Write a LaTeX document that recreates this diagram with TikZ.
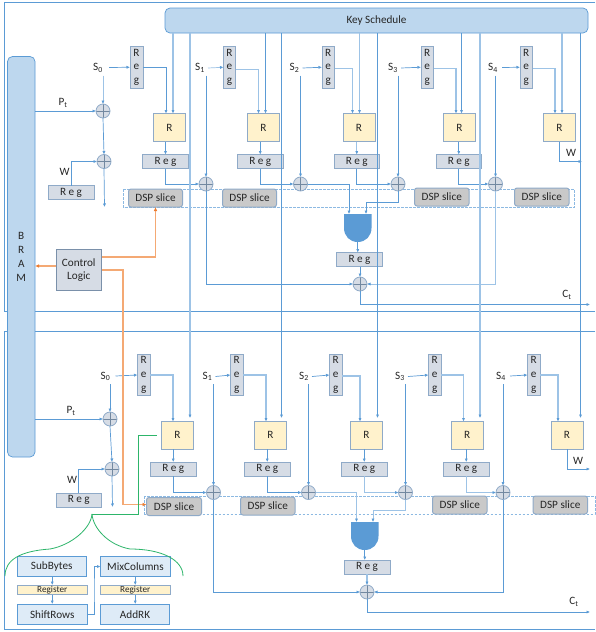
\documentclass[tikz,border=0pt]{standalone}
\usepackage{fontspec}
\setmainfont{Carlito}
\usetikzlibrary{arrows.meta,calc}
\definecolor{lineb}{HTML}{5B9BD5}
\definecolor{linel}{HTML}{9DC3E6}
\definecolor{edgeb}{HTML}{8FAAC8}
\definecolor{fillg}{HTML}{D6DCE5}
\definecolor{fillk}{HTML}{BDD7EE}
\definecolor{filly}{HTML}{FFF2CC}
\definecolor{fills}{HTML}{DEEBF7}
\definecolor{filld}{HTML}{C9C9C9}
\definecolor{oranged}{HTML}{ED7D31}
\definecolor{orangel}{HTML}{F4A974}
\definecolor{greenl}{HTML}{2DB56A}
\definecolor{txt}{HTML}{262626}
\tikzset{
  base/.style={inner sep=0pt,outer sep=0pt,align=center,text=txt,font=\fontsize{11.2}{13.8}\selectfont},
  keybox/.style={base,draw=lineb,fill=fillk,line width=0.7pt,rounded corners=5pt},
  regbox/.style={base,draw=edgeb,fill=fillg,line width=1pt},
  ctrlbox/.style={base,draw=edgeb!85!black,fill=fillg,line width=0.9pt},
  rbox/.style={base,draw=edgeb,fill=filly,line width=1pt},
  dspbox/.style={base,draw=edgeb,fill=filld,line width=1pt,rounded corners=2.5pt},
  subbox/.style={base,draw=lineb,fill=fills,line width=0.7pt},
  regy/.style={base,draw=edgeb,fill=filly,line width=0.7pt,font=\fontsize{9.2}{9.5}\selectfont},
  dashbox/.style={draw=lineb!70,line width=0.5pt,dash pattern=on 2.5pt off 1.5pt},
  xorgate/.style={circle,draw=edgeb,fill=fillg,line width=0.8pt,minimum size=14pt,inner sep=0pt,outer sep=0pt,
    path picture={\draw[edgeb!80!black,line width=0.6pt]
      (path picture bounding box.north)--(path picture bounding box.south)
      (path picture bounding box.west)--(path picture bounding box.east);}},
  lab/.style={inner sep=3pt,text=txt,font=\fontsize{11.2}{13}\selectfont},
  tip/.style={-{Latex[length=3.5pt,width=3.2pt]}},
  conn/.style={draw=lineb,line width=0.7pt,tip},
  connl/.style={draw=linel,line width=0.7pt,-{Latex[length=3.5pt,width=3.2pt,color=lineb]}},
  connh/.style={draw=linel,line width=1.1pt,-{Latex[length=3.5pt,width=3.2pt,color=lineb]}},
  conno/.style={draw=orangel,line width=1.1pt,-{Latex[length=4pt,width=3.6pt,color=oranged]}},
  conng/.style={draw=greenl,line width=0.8pt},
  frame/.style={draw=lineb,line width=0.7pt},
}
\newcommand{\bx}[7]{\node[#1,minimum width={(#5-#3)*1pt},minimum height={(#6-#4)*1pt}] (#2) at ({(#3+#5)/2},{(#4+#6)/2}) {#7};}
\newcommand{\andg}[3]{%
  \fill[lineb] (#2,#3) -- ++(27.5,0) -- ++(0,14) .. controls +(0,8) and +(8,0) .. ++(-13.75,14) .. controls +(-8,0) and +(0,8) .. ++(-13.75,-14) -- cycle;
  \node[inner sep=0pt,outer sep=0pt,minimum width=27.5pt,minimum height=28pt] (#1) at ({#2+13.75},{#3+14}) {};}
\newcommand{\Hreg}{R e g}
\newcommand{\Vreg}{R\\e\\g}
\begin{document}
\begin{tikzpicture}[x=1pt,y=-1pt]
\useasboundingbox (0,0) rectangle (595,632);
\fill[white] (0,0) rectangle (595,632);
% frames
\draw[frame] (595,2.5) -- (4.5,2.5) -- (4.5,311.5) -- (595,311.5);
\draw[frame] (595,331) -- (4.5,331) -- (4.5,629) -- (595,629);

% dashed bands
\draw[dashbox] (123.5,189) rectangle (574,207.5);
\draw[dashbox] (144.5,496) rectangle (595,514);

% ---- node layer
\bx{keybox}{Key}{165}{8}{588}{33}{Key Schedule}
\bx{keybox}{BRAM}{7.5}{56.5}{35}{457}{B\\R\\A\\M}
\bx{ctrlbox}{Ctrl}{56}{249.5}{101.5}{290.5}{Control\\Logic}

% top tier
\node[lab] (St0) at (98,68) {S\textsubscript{0}};
\node[lab] (St1) at (200,68) {S\textsubscript{1}};
\node[lab] (St2) at (294.5,68) {S\textsubscript{2}};
\node[lab] (St3) at (393,68) {S\textsubscript{3}};
\node[lab] (St4) at (493,68) {S\textsubscript{4}};
\bx{regbox}{Vt0}{130}{46.5}{143}{88}{\Vreg}
\bx{regbox}{Vt1}{223.5}{46.5}{235.5}{88}{\Vreg}
\bx{regbox}{Vt2}{322}{46.5}{334.5}{88}{\Vreg}
\bx{regbox}{Vt3}{421}{46.5}{433.5}{88}{\Vreg}
\bx{regbox}{Vt4}{520}{46.5}{532.5}{88}{\Vreg}
\bx{rbox}{Rt0}{153.5}{113.5}{185.5}{141.5}{R}
\bx{rbox}{Rt1}{247.5}{113.5}{279.5}{141.5}{R}
\bx{rbox}{Rt2}{343}{113.5}{375}{141.5}{R}
\bx{rbox}{Rt3}{443.5}{113.5}{475.5}{141.5}{R}
\bx{rbox}{Rt4}{543.5}{113.5}{575.5}{141.5}{R}
\bx{regbox}{Ht0}{142.5}{154.5}{188.5}{168.5}{\Hreg}
\bx{regbox}{Ht1}{237.5}{154.5}{283}{168.5}{\Hreg}
\bx{regbox}{Ht2}{334}{154.5}{379.5}{168.5}{\Hreg}
\bx{regbox}{Ht3}{436}{154.5}{481.5}{168.5}{\Hreg}
\bx{regbox}{Wt}{48}{185.5}{94}{199.5}{\Hreg}
\bx{regbox}{Ot}{336.5}{252.5}{382.5}{266.5}{\Hreg}
\bx{dspbox}{Dt0}{128.5}{189}{182.5}{207}{DSP slice}
\bx{dspbox}{Dt1}{222.5}{189}{276.5}{207}{DSP slice}
\bx{dspbox}{Dt2}{414.5}{188}{469}{206}{DSP slice}
\bx{dspbox}{Dt3}{514.5}{188}{569}{206}{DSP slice}
\node[xorgate] (Xta) at (103,111) {};
\node[xorgate] (Xtb) at (104,161.5) {};
\node[xorgate] (Xt1) at (206,184) {};
\node[xorgate] (Xt2) at (300.5,184) {};
\node[xorgate] (Xt3) at (398,184) {};
\node[xorgate] (Xt4) at (495.5,184) {};
\node[xorgate] (Xto) at (360,284) {};
\andg{At}{344}{214}

% bottom tier
\node[lab] (Sb0) at (105.5,376.5) {S\textsubscript{0}};
\node[lab] (Sb1) at (207.5,376.5) {S\textsubscript{1}};
\node[lab] (Sb2) at (304,376.5) {S\textsubscript{2}};
\node[lab] (Sb3) at (400,376.5) {S\textsubscript{3}};
\node[lab] (Sb4) at (501,376.5) {S\textsubscript{4}};
\bx{regbox}{Vb0}{137.5}{354.5}{150}{395.5}{\Vreg}
\bx{regbox}{Vb1}{230.5}{354.5}{243}{395.5}{\Vreg}
\bx{regbox}{Vb2}{329.5}{354.5}{342}{395.5}{\Vreg}
\bx{regbox}{Vb3}{428.5}{354.5}{441}{395.5}{\Vreg}
\bx{regbox}{Vb4}{527.5}{354.5}{540}{395.5}{\Vreg}
\bx{rbox}{Rb0}{161.5}{421.5}{193.5}{449}{R}
\bx{rbox}{Rb1}{254.5}{421.5}{286.5}{449}{R}
\bx{rbox}{Rb2}{350.5}{421.5}{382.5}{449}{R}
\bx{rbox}{Rb3}{451.5}{421.5}{483}{449}{R}
\bx{rbox}{Rb4}{551}{421.5}{583}{449}{R}
\bx{regbox}{Hb0}{150.5}{462}{196}{476}{\Hreg}
\bx{regbox}{Hb1}{244.5}{462}{290}{476}{\Hreg}
\bx{regbox}{Hb2}{341.5}{462}{387}{476}{\Hreg}
\bx{regbox}{Hb3}{443.5}{462}{489}{476}{\Hreg}
\bx{regbox}{Wb}{56}{493}{101.5}{507}{\Hreg}
\bx{regbox}{Ob}{344}{560}{390}{574}{\Hreg}
\bx{dspbox}{Db0}{146.5}{497.5}{201.5}{515.5}{DSP slice}
\bx{dspbox}{Db1}{240.5}{497}{295}{515}{DSP slice}
\bx{dspbox}{Db2}{432.5}{496}{487}{514}{DSP slice}
\bx{dspbox}{Db3}{533}{496}{587.5}{514}{DSP slice}
\node[xorgate] (Xba) at (110,419) {};
\node[xorgate] (Xbb) at (112,469) {};
\node[xorgate] (Xb1) at (213.5,492.5) {};
\node[xorgate] (Xb2) at (308.5,492.5) {};
\node[xorgate] (Xb3) at (405.5,492.5) {};
\node[xorgate] (Xb4) at (503,492.5) {};
\node[xorgate] (Xbo) at (367,592) {};
\andg{Ab}{351}{522}

% round detail
\bx{subbox}{Sub}{17}{556.5}{86.5}{576.5}{SubBytes}
\bx{regy}{Ry1}{17.5}{585}{87}{594.5}{Register}
\bx{subbox}{Shf}{17.5}{604}{87}{624.5}{ShiftRows}
\bx{subbox}{Mix}{100.5}{556.5}{170.5}{576.5}{MixColumns}
\bx{regy}{Ry2}{100.5}{585}{170}{594.5}{Register}
\bx{subbox}{Add}{100.5}{604}{169.5}{624.5}{AddRK}

% labels
\node[lab] (PtT) at (63,103) {P\textsubscript{t}};
\node[lab] (PtB) at (71,411) {P\textsubscript{t}};
\node[lab] (WtL) at (64.5,172) {W};
\node[lab] (WbL) at (72,480) {W};
\node[lab] (W4t) at (571,153) {W};
\node[lab] (W4b) at (578,461) {W};
\node[lab] (CtT) at (567,295) {C\textsubscript{t}};
\node[lab] (CtB) at (574,602) {C\textsubscript{t}};

% free ends and ports
\coordinate (Tt0) at (166,113.5); \coordinate (Kt0) at (173,113.5);
\coordinate (Tt1) at (258.5,113.5); \coordinate (Kt1) at (265.5,113.5);
\coordinate (Tt2) at (352.5,113.5); \coordinate (Kt2) at (359.5,113.5);
\coordinate (Tt3) at (456,113.5); \coordinate (Kt3) at (461.5,113.5);
\coordinate (Tt4) at (555,113.5); \coordinate (Kt4) at (562,113.5);
\coordinate (Tb0) at (173,421.5); \coordinate (Kb0) at (190,418);
\coordinate (Tb1) at (266,421.5); \coordinate (Kb1) at (281.5,418);
\coordinate (Tb2) at (360,421.5); \coordinate (Kb2) at (377.5,418);
\coordinate (Tb3) at (463.5,421.5); \coordinate (Kb3) at (480,418);
\coordinate (Tb4) at (558,421.5); \coordinate (Kb4) at (580.5,418);
\coordinate (WoutT) at (582,161.5); \coordinate (WoutB) at (590,469);
\coordinate (CoutT) at (590,304.5); \coordinate (CoutB) at (590,612);
\coordinate (XbOutT) at (104.5,207); \coordinate (XbOutB) at (112.5,507);
\coordinate (Atl) at (349,214); \coordinate (Atr) at (366,214);
\coordinate (Abl) at (356.5,522); \coordinate (Abr) at (373,522);
\coordinate (orngA) at (123,400);
\coordinate (grn1) at (138.5,514);
\coordinate (brace) at (92,514);
\coordinate (braceL) at (5,576);
\coordinate (braceR) at (183,576);
\coordinate (shfx) at (94,590);
\coordinate (yBr) at (0,266);
\coordinate (Wxt) at (559.5,141.5);
\coordinate (Wxb) at (567,449);

% top tier connectors
\draw[conn] (BRAM.east |- Xta) -- (Xta.west);
\draw[connl] (St0.south -| Xta.north) -- (Xta.north);
\draw[conn] (Xta.south) -- (Xtb.north);
\draw[conn] (Wt.north) |- (Xtb.west);
\draw[conn] (Xtb.south) -- (XbOutT);
\draw[conn] (St0.east) ++(3,-0.5) -- (Vt0.west);
\draw[connl] (St1.east) -- (Vt1.west);
\draw[conn] (St2.east) -- (Vt2.west);
\draw[conn] (St3.east) -- (Vt3.west);
\draw[conn] (St4.east) ++(1,-0.5) -- (Vt4.west);
\draw[conn] (Vt0.east) -| (Tt0);
\draw[connh] (Vt1.east) ++(0,2) -| (Tt1);
\draw[connh] (Vt2.east) ++(0,1.5) -| (Tt2);
\draw[connh] (Vt3.east) ++(0,1.5) -| (Tt3);
\draw[connh] (Vt4.east) ++(0,1.5) -| (Tt4);
\draw[connh] (Key.south -| Kt0) -- (Kt0);
\draw[conn] (Key.south -| Kt1) -- (Kt1);
\draw[connh] (Key.south -| Kt2) -- (Kt2);
\draw[conn] (Key.south -| Kt3) -- (Kt3);
\draw[connh] (Key.south -| Kt4) -- (Kt4);
\draw[conn] (Rt0.south -| Ht0.north) -- (Ht0.north);
\draw[conn] (Rt1.south -| Ht1.north) -- (Ht1.north);
\draw[connl] (Rt2.south -| Ht2.north) -- (Ht2.north);
\draw[conn] (Rt3.south -| Ht3.north) -- (Ht3.north);
\draw[conn] (Ht0.south) |- (Xt1.west);
\draw[conn] (Ht1.south) |- (Xt2.west);
\draw[conn] (Ht2.south) |- (Xt3.west);
\draw[conn] (Ht3.south) |- (Xt4.west);
\draw[conn] (St1.south -| Xt1.north) -- (Xt1.north);
\draw[conn] (St2.south -| Xt2.north) -- (Xt2.north);
\draw[conn] (St3.south -| Xt3.north) -- (Xt3.north);
\draw[conn] (St4.south -| Xt4.north) -- (Xt4.north);
\draw[conn] (Xt2.east) -| (Atl);
\draw[conn] (Xt3.south) |- ($(Atr)+(0,-12)$) -- (Atr);
\draw[conn] (At.south) -- (At.south |- Ot.north);
\draw[conn] (Ot.south -| Xto.north) -- (Xto.north);
\draw[conn] (Xt1.south) |- (Xto.west);
\draw[connl] (Xt4.south) |- (Xto.east);
\draw[conn] (Xto.south) |- (CoutT);
\draw[conn] (Wxt) |- (WoutT);

% key lines to the bottom tier
\draw[connh] (Key.south -| Kb0) -- (Kb0);
\draw[conn] (Key.south -| Kb1) -- (Kb1);
\draw[conn] (Key.south -| Kb2) -- (Kb2);
\draw[connh] (Key.south -| Kb3) -- (Kb3);
\draw[conn] (Key.south -| Kb4) -- (Kb4);

% bottom tier connectors
\draw[conn] (BRAM.east |- Xba) -- (Xba.west);
\draw[conn] (Sb0.south -| Xba.north) -- (Xba.north);
\draw[conn] (Xba.south) -- (Xbb.north);
\draw[conn] (Wb.north) |- (Xbb.west);
\draw[conn] (Xbb.south) -- (XbOutB);
\draw[conn] (Sb0.east) ++(2,-0.5) -- (Vb0.west);
\draw[conn] (Sb1.east) -- (Vb1.west);
\draw[conn] (Sb2.east) -- (Vb2.west);
\draw[conn] (Sb3.east) -- (Vb3.west);
\draw[conn] (Sb4.east) ++(1,-0.5) -- (Vb4.west);
\draw[connh] (Vb0.east) -| (Tb0);
\draw[connh] (Vb1.east) -| (Tb1);
\draw[connh] (Vb2.east) ++(0,1) -| (Tb2);
\draw[connh] (Vb3.east) -| (Tb3);
\draw[connh] (Vb4.east) -| (Tb4);
\draw[conn] (Rb0.south -| Hb0.north) -- (Hb0.north);
\draw[conn] (Rb1.south -| Hb1.north) -- (Hb1.north);
\draw[conn] (Rb2.south -| Hb2.north) -- (Hb2.north);
\draw[conn] (Rb3.south -| Hb3.north) -- (Hb3.north);
\draw[conn] (Hb0.south) |- (Xb1.west);
\draw[conn] (Hb1.south) |- (Xb2.west);
\draw[connl] (Hb2.south) |- (Xb3.west);
\draw[connl] (Hb3.south) |- (Xb4.west);
\draw[conn] (Sb1.south -| Xb1.north) -- (Xb1.north);
\draw[conn] (Sb2.south -| Xb2.north) -- (Xb2.north);
\draw[conn] (Sb3.south -| Xb3.north) -- (Xb3.north);
\draw[conn] (Sb4.south -| Xb4.north) -- (Xb4.north);
\draw[connl] (Xb2.east) -| (Abl);
\draw[connl] (Xb3.south) |- ($(Abr)+(0,-12)$) -- (Abr);
\draw[conn] (Ab.south) -- (Ab.south |- Ob.north);
\draw[connh] (Ob.south -| Xbo.north) -- (Xbo.north);
\draw[conn] (Xb1.south) |- (Xbo.west);
\draw[conn] (Xb4.south) |- (Xbo.east);
\draw[conn] (Xbo.south) |- (CoutB);
\draw[conn] (Wxb) |- (WoutB);

% control logic
\draw[conno] (Ctrl.west |- yBr) -- (BRAM.east |- yBr);
\draw[conno] ([yshift=13pt]Ctrl.east) -| (Dt0.south);
\draw[conno] (Ctrl.east) -| (orngA) |- ([yshift=2pt]Db0.west);

% green link and brace
\draw[conng] ([xshift=-5pt]Rb0.west) -| (grn1) -- (brace);
\draw[conng] (brace) .. controls +(-1,14) and +(22,-4) .. (50,549) .. controls +(-30,2) and +(0,-16) .. (braceL);
\draw[conng] (brace) .. controls +(1,14) and +(-22,-4) .. (130,549) .. controls +(32,0) and +(0,-16) .. (braceR);

% round detail connectors
\draw[conn] (Sub.south -| Ry1.north) -- (Ry1.north);
\draw[conn] (Ry1.south) -- (Shf.north);
\draw[conn] (Shf.east) -| (shfx) |- (Mix.west);
\draw[conn] (Mix.south -| Ry2.north) -- (Ry2.north);
\draw[conn] (Ry2.south) -- (Add.north -| Ry2.south);
\end{tikzpicture}
\end{document}
